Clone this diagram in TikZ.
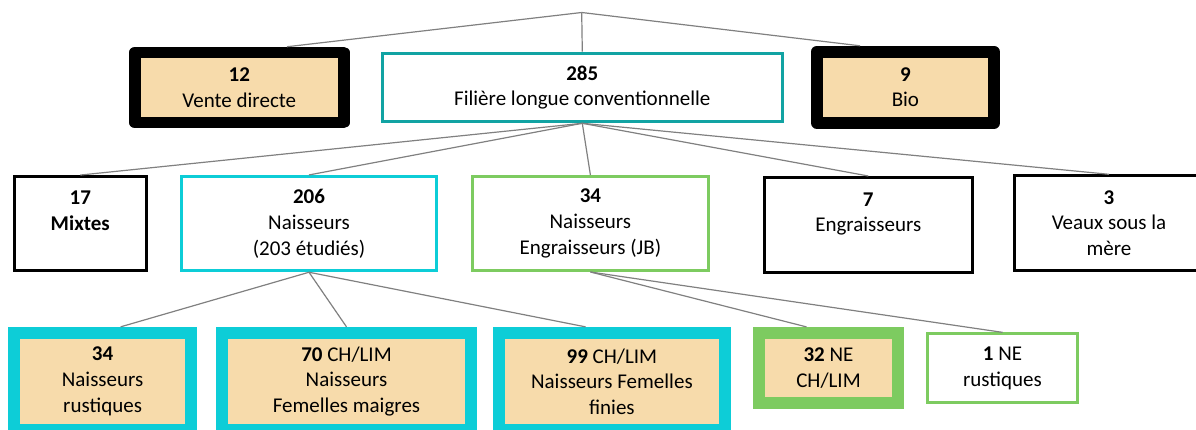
\documentclass[tikz,border=0pt]{standalone}
\usepackage{fontspec}
\setmainfont{Carlito}
\usetikzlibrary{calc}
\definecolor{sand}{RGB}{247,219,171}
\definecolor{boxcyan}{RGB}{13,205,215}
\definecolor{boxteal}{RGB}{17,163,163}
\definecolor{boxgreen}{RGB}{125,203,96}
\definecolor{linkgray}{RGB}{128,128,128}
\begin{document}
\begin{tikzpicture}
        [
            x=1pt, y=-1pt,
            every node/.style={align=center, inner sep=0pt,
                               font=\fontsize{21}{25.7}\selectfont},
            dims/.style 2 args={minimum width=#1pt, minimum height=#2pt},
            slim/.style={rectangle, draw=#1, line width=3pt, fill=white},
            heavy/.style={rectangle, draw=#1, line width=12pt, fill=sand},
            link/.style={draw=linkgray, line width=1.2pt}
        ]
        \useasboundingbox (0,0) rectangle (1196,430);
        \clip (0,0) rectangle (1196,430);
        \coordinate (top) at (581.7,12.5);
        \node (vd) [heavy=black, line join=round, line width=11.5pt, dims={209.1}{70}]
            at (239.3,87.5) {\textbf{12}\\Vente directe};
        \node (flc) [slim=boxteal, dims={400.3}{68.6}]
            at (582.3,87.5) {\textbf{285}\\Filière longue conventionnelle};
        \node (bio) [heavy=black, line join=round, line width=11.8pt, dims={177.2}{71.2}]
            at (905.4,87.3) {\textbf{9}\\Bio};
        \node (mix) [slim=black, dims={132.4}{93.7}]
            at (80.3,223.4) {\textbf{17}\\\textbf{Mixtes}\\~};
        \node (nai) [slim=boxcyan, dims={255}{94.3}]
            at (309,223.6) {\textbf{206}\\Naisseurs\\(203 étudiés)};
        \node (ne) [slim=boxgreen, dims={236.3}{94}]
            at (590.4,223.5) {\textbf{34}\\Naisseurs\\Engraisseurs (JB)};
        \node (eng) [slim=black, dims={208.5}{95}]
            at (868.3,225) {\textbf{7}\\Engraisseurs\\~};
        \node (vsm) [slim=black, dims={189}{94.4}]
            at (1109,223) {\textbf{3}\\Veaux sous la\\mère};
        \node (nr) [heavy=boxcyan, dims={176.8}{97.3}]
            at (102.6,381.5) {\textbf{34}\\Naisseurs\\rustiques};
        \node (fm) [heavy=boxcyan, dims={249.7}{97.3}]
            at (346.5,381.5) {\textbf{70} CH/LIM\\Naisseurs\\Femelles maigres};
        \node (ff) [heavy=boxcyan, dims={226.8}{97.3}]
            at (611.9,381.5) {\textbf{99} CH/LIM\\Naisseurs Femelles\\finies};
        \node (nech) [heavy=boxgreen, line width=11.7pt, dims={139.6}{70.5}]
            at (828.5,368) {\textbf{32} NE\\CH/LIM};
        \node (neru) [slim=boxgreen, dims={150}{68.7}]
            at (1002.5,368.2) {\textbf{1} NE\\rustiques};
        \draw [link] (top) -- ($(vd.north)+(47.7,0)$);
        \draw [link] (top) -- (flc.north);
        \draw [link] (top) -- ($(bio.north)+(-45.4,0)$);
        \foreach \i/\j in {flc/mix,flc/nai,flc/ne,flc/eng,flc/vsm,nai/fm,ne/neru}
            \draw [link] (\i.south) -- (\j.north);
        \draw [link] (nai.south) -- ($(nr.north)+(18,0)$);
        \draw [link] (nai.south) -- ($(ff.north)+(-26.4,0)$);
        \draw [link] (ne.south) -- ($(nech.north)+(-22,0)$);
    \end{tikzpicture}
\end{document}
